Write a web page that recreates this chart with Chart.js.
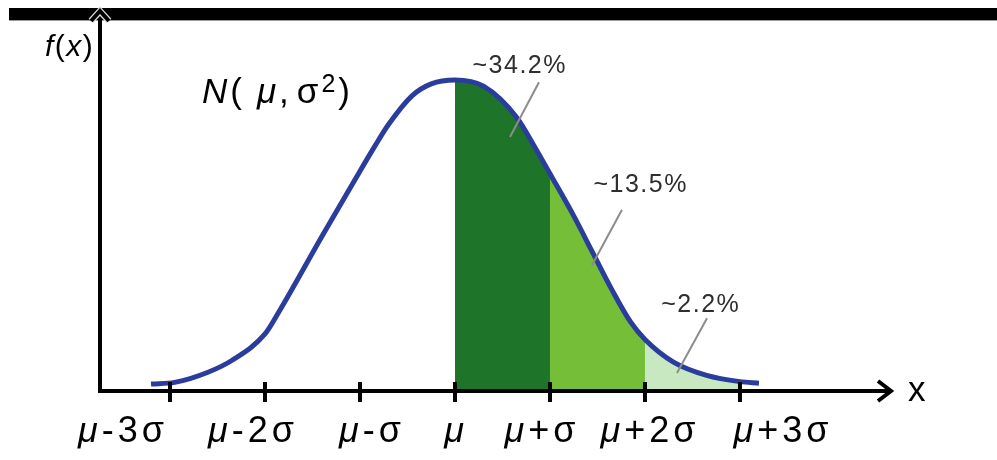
<!DOCTYPE html>
<html lang="en">
<head>
  <meta charset="UTF-8" />
  <title>Normal distribution N(μ, σ²)</title>
  <script src="https://cdn.jsdelivr.net/npm/chart.js"></script>
  <style>
    html, body {
      margin: 0;
      padding: 0;
      background: #fff;
    }
    #wrap {
      width: 997px;
      height: 460px;
    }
  </style>
</head>
<body>
  <div id="wrap"><canvas id="normalChart" width="997" height="460"></canvas></div>

  <script>
    // bell curve: x in sigma units from the mean, y as density
    const curveX = [-3.2, -2.95, -2.6, -2.35, -2.0, -1.85, -1.4, -1.05, -0.85, -0.7, -0.45, -0.25,
                    0, 0.3, 0.65, 0.85, 1.0, 1.25, 1.45, 1.65, 1.85, 2.0, 2.3, 2.65, 3.0, 3.2];
    const curveY = [0.009, 0.011, 0.024, 0.039, 0.073, 0.102, 0.198, 0.271, 0.312, 0.341, 0.378, 0.393,
                    0.398, 0.390, 0.350, 0.310, 0.278, 0.224, 0.177, 0.130, 0.088, 0.066, 0.037, 0.020, 0.012, 0.010];

    const tickValues = [-3, -2, -1, 0, 1, 2, 3];
    const tickLabels = ['μ-3σ', 'μ-2σ', 'μ-σ', 'μ', 'μ+σ', 'μ+2σ', 'μ+3σ'];

    // shaded bands between these sigma edges, with their share of the area
    const bandEdges = [0, 1, 2, 3];
    const bandShares = ['~34.2%', '~13.5%', '~2.2%'];

    const bandColors = ['#1e7428', '#74bf37', '#c8e8c2'];
    const curveColor = '#2b3d9c';
    const FONT = '"Liberation Sans", Arial, sans-serif';

    // where the share labels and their leader lines sit, in data units
    const noteSpots = [
      { text: [0.674, 0.407], line: [0.884, 0.395, 0.579, 0.325] },
      { text: [1.947, 0.255], line: [1.758, 0.232, 1.442, 0.161] },
      { text: [2.579, 0.101], line: [2.653, 0.093, 2.337, 0.023] }
    ];
    // label nudges in px, the labels in the picture are not centred on their ticks
    const labelShift = [-49, -14, 10, -1, -10, 3, 41];

    const curvePoints = curveX.map((x, i) => ({ x, y: curveY[i] }));

    // draw a row of text pieces, some italic, some raised
    function drawParts(ctx, parts, x, y, size, spacing, align) {
      const fontOf = p => (p.italic ? 'italic ' : '') + Math.round(size * (p.scale || 1)) + 'px ' + FONT;
      const widths = parts.map(p => { ctx.font = fontOf(p); return ctx.measureText(p.t).width; });
      let total = widths.reduce((a, w) => a + w, 0) + spacing * (parts.length - 1);
      parts.forEach(p => { total += p.pad || 0; });
      let cx = align === 'center' ? x - total / 2 : x;
      ctx.textAlign = 'left';
      ctx.textBaseline = 'alphabetic';
      parts.forEach((p, i) => {
        cx += p.pad || 0;
        ctx.font = fontOf(p);
        ctx.fillText(p.t, cx, y + (p.dy || 0));
        cx += widths[i] + spacing;
      });
    }

    const symbolParts = s => s.split('').map(c => ({ t: c, italic: c === 'μ' }));

    const sketchPlugin = {
      id: 'sketch',
      beforeDraw(chart) {
        const ctx = chart.ctx;
        ctx.save();
        // the black band across the top of the picture
        ctx.fillStyle = '#000';
        ctx.fillRect(9, 8, chart.width - 9, 12);
        ctx.fillStyle = '#9a9a9a';
        ctx.fillRect(9, 20, chart.width - 9, 1);
        ctx.restore();
      },
      afterDatasetsDraw(chart) {
        const ctx = chart.ctx;
        const xs = chart.scales.x, ys = chart.scales.y;
        const ca = chart.chartArea;
        const left = xs.getPixelForValue(xs.min);
        const axisY = ys.getPixelForValue(0);
        const tipY = ca.top + 3;
        const tipX = ca.right - 2;

        ctx.save();
        ctx.strokeStyle = '#000';
        ctx.lineWidth = 4;
        ctx.lineJoin = 'miter';
        ctx.beginPath();
        ctx.moveTo(left, tipY);
        ctx.lineTo(left, axisY);
        ctx.lineTo(tipX, axisY);
        ctx.stroke();

        // arrow heads, the upper one has a light rim where it crosses the band
        ctx.beginPath();
        ctx.moveTo(left - 9, tipY + 10);
        ctx.lineTo(left, tipY);
        ctx.lineTo(left + 9, tipY + 10);
        ctx.strokeStyle = '#ddd';
        ctx.lineWidth = 6.5;
        ctx.stroke();
        ctx.strokeStyle = '#000';
        ctx.lineWidth = 4;
        ctx.stroke();

        ctx.beginPath();
        ctx.moveTo(tipX - 13, axisY - 10);
        ctx.lineTo(tipX, axisY);
        ctx.lineTo(tipX - 13, axisY + 10);
        ctx.stroke();

        // tick marks across the x axis
        ctx.lineWidth = 4;
        ctx.lineCap = 'butt';
        tickValues.forEach(v => {
          const px = xs.getPixelForValue(v);
          ctx.beginPath();
          ctx.moveTo(px, axisY - 9);
          ctx.lineTo(px, axisY + 11);
          ctx.stroke();
        });

        // leader lines for the shares
        ctx.strokeStyle = '#8c8c8c';
        ctx.lineWidth = 2;
        noteSpots.forEach(n => {
          const [x1, y1, x2, y2] = n.line;
          ctx.beginPath();
          ctx.moveTo(xs.getPixelForValue(x1), ys.getPixelForValue(y1));
          ctx.lineTo(xs.getPixelForValue(x2), ys.getPixelForValue(y2));
          ctx.stroke();
        });
        ctx.restore();
      },
      afterDraw(chart) {
        const ctx = chart.ctx;
        const xs = chart.scales.x, ys = chart.scales.y;
        const axisY = ys.getPixelForValue(0);
        ctx.save();
        ctx.fillStyle = '#000';

        tickLabels.forEach((lab, i) => {
          const px = xs.getPixelForValue(tickValues[i]) + labelShift[i];
          drawParts(ctx, symbolParts(lab), px, axisY + 51, 36, 4, 'center');
        });

        drawParts(ctx, [{ t: 'x' }], xs.getPixelForValue(xs.max) + 15, axisY + 10, 35, 0, 'left');

        drawParts(ctx, [{ t: 'f', italic: true }, { t: '(' }, { t: 'x', italic: true }, { t: ')' }],
          45, 56, 30, 1.5, 'left');

        drawParts(ctx, [
          { t: 'N', italic: true }, { t: '(' }, { t: 'μ', italic: true, pad: 12 }, { t: ',' },
          { t: 'σ', pad: 5 }, { t: '2', scale: 0.72, dy: -11 }, { t: ')' }
        ], 202, 103, 35, 3, 'left');

        ctx.fillStyle = '#2e2e2e';
        bandShares.forEach((share, i) => {
          const [x, y] = noteSpots[i].text;
          drawParts(ctx, share.split('').map(c => ({ t: c })),
            xs.getPixelForValue(x), ys.getPixelForValue(y), 25, 1.5, 'center');
        });
        ctx.restore();
      }
    };

    const bandSets = bandShares.map((share, i) => ({
      label: share,
      data: curvePoints.filter(p => p.x >= bandEdges[i] && p.x <= bandEdges[i + 1]),
      borderColor: 'rgba(0,0,0,0)',
      borderWidth: 0,
      backgroundColor: bandColors[i],
      fill: 'origin',
      pointRadius: 0,
      cubicInterpolationMode: 'monotone'
    }));

    new Chart(document.getElementById('normalChart').getContext('2d'), {
      type: 'line',
      data: {
        datasets: [
          {
            label: 'N(μ, σ²)',
            data: curvePoints,
            borderColor: curveColor,
            borderWidth: 5,
            borderCapStyle: 'butt',
            fill: false,
            pointRadius: 0,
            cubicInterpolationMode: 'monotone'
          },
          ...bandSets
        ]
      },
      options: {
        responsive: false,
        animation: false,
        layout: { padding: { left: 100, right: 104, top: 8, bottom: 69 } },
        scales: {
          x: { type: 'linear', display: false, min: -3.737, max: 4.611 },
          y: { display: false, min: 0, max: 0.49 }
        },
        plugins: {
          legend: { display: false },
          tooltip: { enabled: false }
        }
      },
      plugins: [sketchPlugin]
    });
  </script>
</body>
</html>
